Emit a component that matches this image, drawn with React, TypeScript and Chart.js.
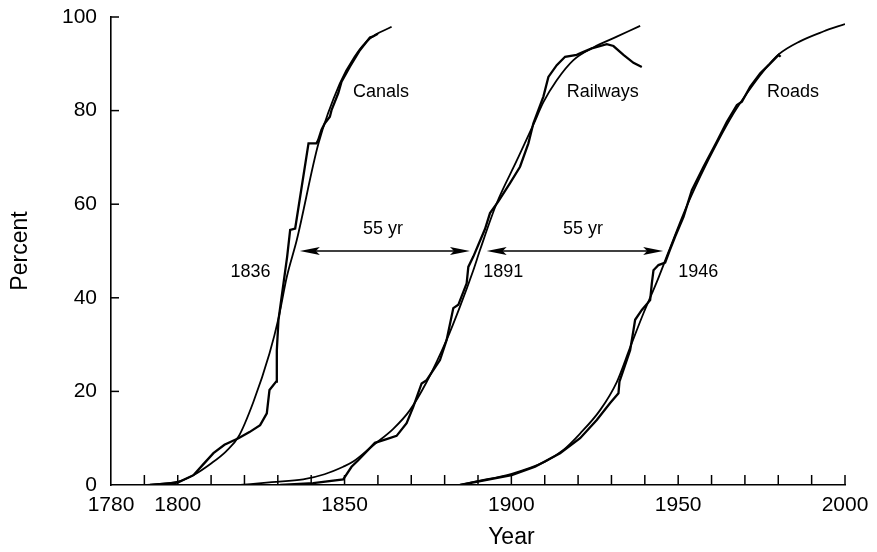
import React, { useEffect, useRef } from "react";
import { Chart, registerables } from "chart.js";

Chart.register(...registerables);

// ---------- data ----------
const xTickLabels = [1780, 1800, 1850, 1900, 1950, 2000];
const xMinorTicks = [1790, 1800, 1810, 1820, 1830, 1840, 1850, 1860, 1870, 1880, 1890, 1900, 1910, 1920, 1930, 1940, 1950, 1960, 1970, 1980, 1990, 2000];
const yTickValues = [0, 20, 40, 60, 80, 100];

// fitted (smooth) curves: [year, percent]
const canalsFit: number[][] = [
  [1790.8, 0], [1800, 0.7], [1804.7, 2.1], [1810, 4.6], [1814.5, 7.2], [1818.2, 10.3],
  [1822.7, 17.8], [1827.5, 28.1], [1830.2, 35.6], [1832.7, 44.5], [1835.7, 52.4],
  [1842.2, 73.0], [1848.6, 85.8], [1853, 91.5], [1857.6, 95.4], [1864.1, 97.9],
];
const railwaysFit: number[][] = [
  [1818.7, 0], [1828.2, 0.6], [1837.6, 1.2], [1844, 2.3], [1849.6, 3.9], [1852.6, 5.0],
  [1858.6, 8.5], [1864.6, 12.0], [1869.6, 16.0], [1874.6, 22.0], [1880.6, 31.0],
  [1884.6, 38.1], [1888.6, 45.9], [1890.6, 50.2], [1895.6, 60.2], [1901.6, 69.3],
  [1906.6, 77.0], [1909.6, 81.8], [1913.6, 86.5], [1918.6, 90.8], [1924.6, 93.5],
  [1931.6, 95.8], [1938.6, 98.1],
];
const roadsFit: number[][] = [
  [1884.6, 0], [1889.1, 0.7], [1900.1, 2.4], [1910.1, 5.0], [1915.6, 7.5], [1920.6, 11.0],
  [1926.6, 16.0], [1931.6, 22.0], [1935.6, 29.4], [1939.6, 36.7], [1943.6, 43.4],
  [1947.1, 49.8], [1952.1, 58.8], [1956.6, 65.9], [1961.6, 73.0], [1966.6, 79.4],
  [1970.6, 83.7], [1975.6, 88.5], [1980.1, 92.0], [1986.5, 94.8], [1993.5, 96.9], [2000, 98.5],
];

// observed (jagged) curves: [year, percent]
const canalsData: number[][] = [
  [1791.7, 0], [1800, 0.5], [1804.7, 2.1], [1807.5, 4.3], [1810.7, 6.8], [1814, 8.6],
  [1818.2, 10.0], [1821.5, 11.3], [1824.7, 12.8], [1826.7, 15.3], [1827.5, 20.3],
  [1829.5, 22.1], [1829.7, 28.8], [1830.2, 35.3], [1832.8, 48.8], [1833.7, 54.5],
  [1835.2, 54.8], [1839.2, 73.0], [1841.6, 73.0], [1842.1, 73.7], [1843.1, 75.9],
  [1844.1, 77.3], [1845.6, 78.7], [1846.1, 80.1], [1848.1, 83.7], [1849.1, 86.2],
  [1851.6, 89.4], [1854.6, 92.9], [1856.6, 94.7], [1857.6, 95.6], [1858.4, 95.8], [1860, 96.4],
];
const railwaysData: number[][] = [
  [1830.7, 0], [1840.6, 0.4], [1849.6, 1.2], [1852.1, 3.9], [1854.1, 5.3], [1859.1, 9.0],
  [1862.6, 9.8], [1865.6, 10.5], [1868.6, 13.2], [1870.6, 16.7], [1873.1, 21.7],
  [1874.6, 22.4], [1878.6, 26.7], [1880.6, 31.0], [1882.6, 37.8], [1884.1, 38.5],
  [1886.6, 43.1], [1887.1, 46.6], [1888.6, 48.8], [1892.1, 54.7], [1893.6, 58.1],
  [1896, 60.5], [1899.6, 64.5], [1902.6, 68.0], [1905.1, 73.0], [1906.6, 77.3],
  [1909.6, 83.0], [1911.1, 87.2], [1913.6, 89.7], [1916.1, 91.5], [1919.6, 91.9],
  [1921.1, 92.4], [1924.1, 93.3], [1928.6, 94.2], [1930.6, 93.8], [1933.6, 91.9],
  [1936.6, 90.2], [1939.1, 89.3],
];
const roadsData: number[][] = [
  [1884.6, 0], [1900.1, 2.1], [1907.1, 3.9], [1914.6, 6.8], [1920.6, 10.0], [1925.6, 13.9],
  [1929.6, 17.5], [1932.1, 19.6], [1932.4, 22.1], [1933.6, 24.6], [1935.6, 28.8],
  [1936.6, 33.1], [1937.1, 35.3], [1939.1, 37.4], [1941.6, 39.5], [1942.1, 43.1],
  [1942.6, 45.9], [1944.1, 47.0], [1946.1, 47.5], [1947.5, 50.2], [1949.1, 53.1],
  [1951.6, 57.3], [1954.1, 63.0], [1957.6, 68.0], [1961.6, 73.4], [1964.6, 77.6],
  [1967.6, 81.2], [1969.1, 81.9], [1971.6, 85.1], [1974.6, 88.0], [1977.1, 89.7],
  [1980.1, 91.9], [1980.7, 91.5],
];

// 55-year spans between the 50% points
const arrowSpans: number[][] = [[1836.6, 1887.6], [1892.6, 1945.5]];
const arrowLevel = 50;

// text annotations: [text, year, percent, align]
const annotations: [string, number, number, CanvasTextAlign][] = [
  ["Canals", 1852.5, 84.0, "left"],
  ["Railways", 1916.6, 84.0, "left"],
  ["Roads", 1976.6, 84.0, "left"],
  ["55 yr", 1861.5, 54.6, "center"],
  ["55 yr", 1921.5, 54.6, "center"],
  ["1836", 1827.8, 45.4, "right"],
  ["1891", 1891.6, 45.4, "left"],
  ["1946", 1950.0, 45.4, "left"],
];

const FONT = "'Liberation Sans', Arial, Helvetica, sans-serif";

const toPts = (arr: number[][]) => arr.map(([x, y]) => ({ x, y }));

const overlayPlugin = {
  id: "overlay",
  afterDatasetsDraw(chart: any) {
    const { ctx } = chart;
    const xs = chart.scales.x;
    const ys = chart.scales.y;
    ctx.save();
    ctx.strokeStyle = "#000";
    ctx.fillStyle = "#000";
    ctx.lineWidth = 1.5;
    const base = ys.getPixelForValue(0);
    const left = xs.getPixelForValue(1780);
    // inward x ticks
    xMinorTicks.forEach((v) => {
      const px = xs.getPixelForValue(v);
      ctx.beginPath();
      ctx.moveTo(px, base);
      ctx.lineTo(px, base - 10);
      ctx.stroke();
    });
    // inward y ticks
    yTickValues.forEach((v) => {
      if (v === 0) return;
      const py = ys.getPixelForValue(v);
      ctx.beginPath();
      ctx.moveTo(left, py);
      ctx.lineTo(left + 8, py);
      ctx.stroke();
    });
    // arrows
    arrowSpans.forEach(([a, b]) => {
      const x1 = xs.getPixelForValue(a);
      const x2 = xs.getPixelForValue(b);
      const py = ys.getPixelForValue(arrowLevel);
      ctx.lineWidth = 1.6;
      ctx.beginPath();
      ctx.moveTo(x1 + 10, py);
      ctx.lineTo(x2 - 10, py);
      ctx.stroke();
      const head = (tip: number, dir: number) => {
        ctx.beginPath();
        ctx.moveTo(tip, py);
        ctx.lineTo(tip + dir * 20, py - 4);
        ctx.lineTo(tip + dir * 16, py);
        ctx.lineTo(tip + dir * 20, py + 4);
        ctx.closePath();
        ctx.fill();
      };
      head(x1, 1);
      head(x2, -1);
    });
    // text annotations
    ctx.font = `18px ${FONT}`;
    ctx.textBaseline = "middle";
    annotations.forEach(([t, xv, yv, al]) => {
      ctx.textAlign = al;
      ctx.fillText(t, xs.getPixelForValue(xv), ys.getPixelForValue(yv));
    });
    // x axis title
    ctx.font = `23px ${FONT}`;
    ctx.textAlign = "center";
    ctx.fillText("Year", xs.getPixelForValue(1900), ys.bottom + 53);
    ctx.restore();
  },
};

export default function App() {
  const canvasRef = useRef<HTMLCanvasElement | null>(null);

  useEffect(() => {
    document.body.style.margin = "0";
    const canvas = canvasRef.current;
    if (!canvas) return;
    const fit = { borderColor: "#000", borderWidth: 1.8, pointRadius: 0, cubicInterpolationMode: "monotone" as const, fill: false };
    const obs = { borderColor: "#000", borderWidth: 2.3, pointRadius: 0, tension: 0, fill: false };
    const chart = new Chart(canvas, {
      type: "line",
      data: {
        datasets: [
          { label: "Canals (fit)", data: toPts(canalsFit), ...fit },
          { label: "Canals", data: toPts(canalsData), ...obs },
          { label: "Railways (fit)", data: toPts(railwaysFit), ...fit },
          { label: "Railways", data: toPts(railwaysData), ...obs },
          { label: "Roads (fit)", data: toPts(roadsFit), ...fit },
          { label: "Roads", data: toPts(roadsData), ...obs },
        ],
      },
      options: {
        animation: false,
        responsive: false,
        events: [],
        layout: { padding: { top: 17, right: 32, bottom: 0, left: 0 } },
        plugins: { legend: { display: false }, tooltip: { enabled: false }, title: { display: false } },
        scales: {
          x: {
            type: "linear",
            min: 1780,
            max: 2000,
            grid: { display: false, drawTicks: false },
            border: { display: true, color: "#000", width: 1.6 },
            ticks: {
              color: "#000",
              font: { family: FONT, size: 21 },
              padding: 8,
              maxRotation: 0,
              autoSkip: false,
              callback: (v: any) => String(v),
            },
            afterBuildTicks: (scale: any) => {
              scale.ticks = xTickLabels.map((v) => ({ value: v }));
            },
            afterFit: (scale: any) => {
              scale.height = 67;
              scale.paddingLeft = 0;
              scale.paddingRight = 0;
            },
          },
          y: {
            type: "linear",
            min: 0,
            max: 100,
            grid: { display: false, drawTicks: false },
            border: { display: true, color: "#000", width: 1.6 },
            ticks: { color: "#000", font: { family: FONT, size: 21 }, padding: 14, stepSize: 20 },
            title: { display: true, text: "Percent", color: "#000", font: { family: FONT, size: 23 }, padding: { top: 7, bottom: 0 } },
            afterFit: (scale: any) => {
              scale.width = 111;
              scale.paddingTop = 0;
              scale.paddingBottom = 0;
            },
          },
        },
      },
      plugins: [overlayPlugin],
    });
    return () => chart.destroy();
  }, []);

  return (
    <div style={{ width: 877, height: 552 }}>
      <canvas ref={canvasRef} width={877} height={552} style={{ display: "block" }} />
    </div>
  );
}
